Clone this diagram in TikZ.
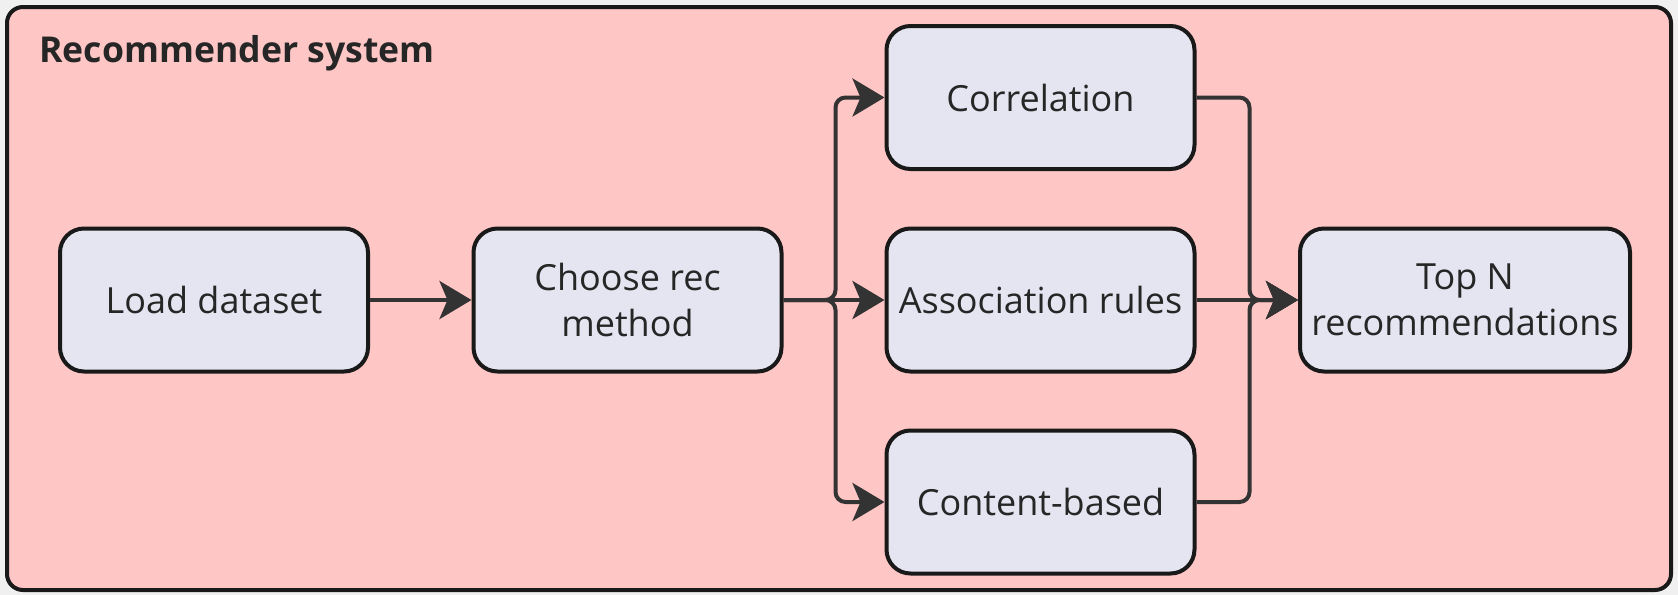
\documentclass[tikz,border=0pt]{standalone}
\usepackage{fontspec}
\setmainfont{Open Sans}
\usetikzlibrary{arrows.meta}

\definecolor{sysbg}{RGB}{255,198,198}
\definecolor{stepfill}{RGB}{229,229,242}
\definecolor{edgegray}{RGB}{51,51,51}

\begin{document}
\begin{tikzpicture}[x=0.5pt,y=-0.5pt,
  stage/.style={draw=black!90,fill=stepfill,line width=2pt,rounded corners=12pt,minimum width=154pt,minimum height=71.5pt,align=center,font=\fontsize{18}{23}\selectfont,text=black!85},
  flow/.style={draw=edgegray,line width=2pt,rounded corners=5pt,-{Stealth[length=16pt,width=19pt,inset=4pt]}}]
\useasboundingbox[fill=black!6] (0,0) rectangle (1678,595);
\draw[fill=sysbg,draw=black!90,line width=2pt,rounded corners=8pt] (7,7) rectangle (1671,590);
\node[anchor=base west,inner sep=0pt,font=\fontsize{17.8}{22}\selectfont\bfseries,text=black!85] (title) at (39,62) {Recommender system};

\node[stage] (load) at (214,300) {Load dataset};
\node[stage] (choose) at (627.5,300) {Choose rec\\method};
\node[stage] (corr) at (1040.5,97.5) {Correlation};
\node[stage] (assoc) at (1040.5,300) {Association rules};
\node[stage] (content) at (1040.5,502) {Content-based};
\node[stage,minimum width=165pt] (topn) at (1465,300) {Top N\\recommendations};

\draw[flow] (load) -- (choose);
\draw[flow] (choose) -- (assoc);
\draw[flow] (assoc) -- (topn);
\foreach \m in {corr,content} {
  \draw[flow] (choose.east) -- ++(52,0) |- (\m.west);
  \draw[flow] (\m.east) -- ++(53,0) |- (topn.west);
}
\end{tikzpicture}
\end{document}
